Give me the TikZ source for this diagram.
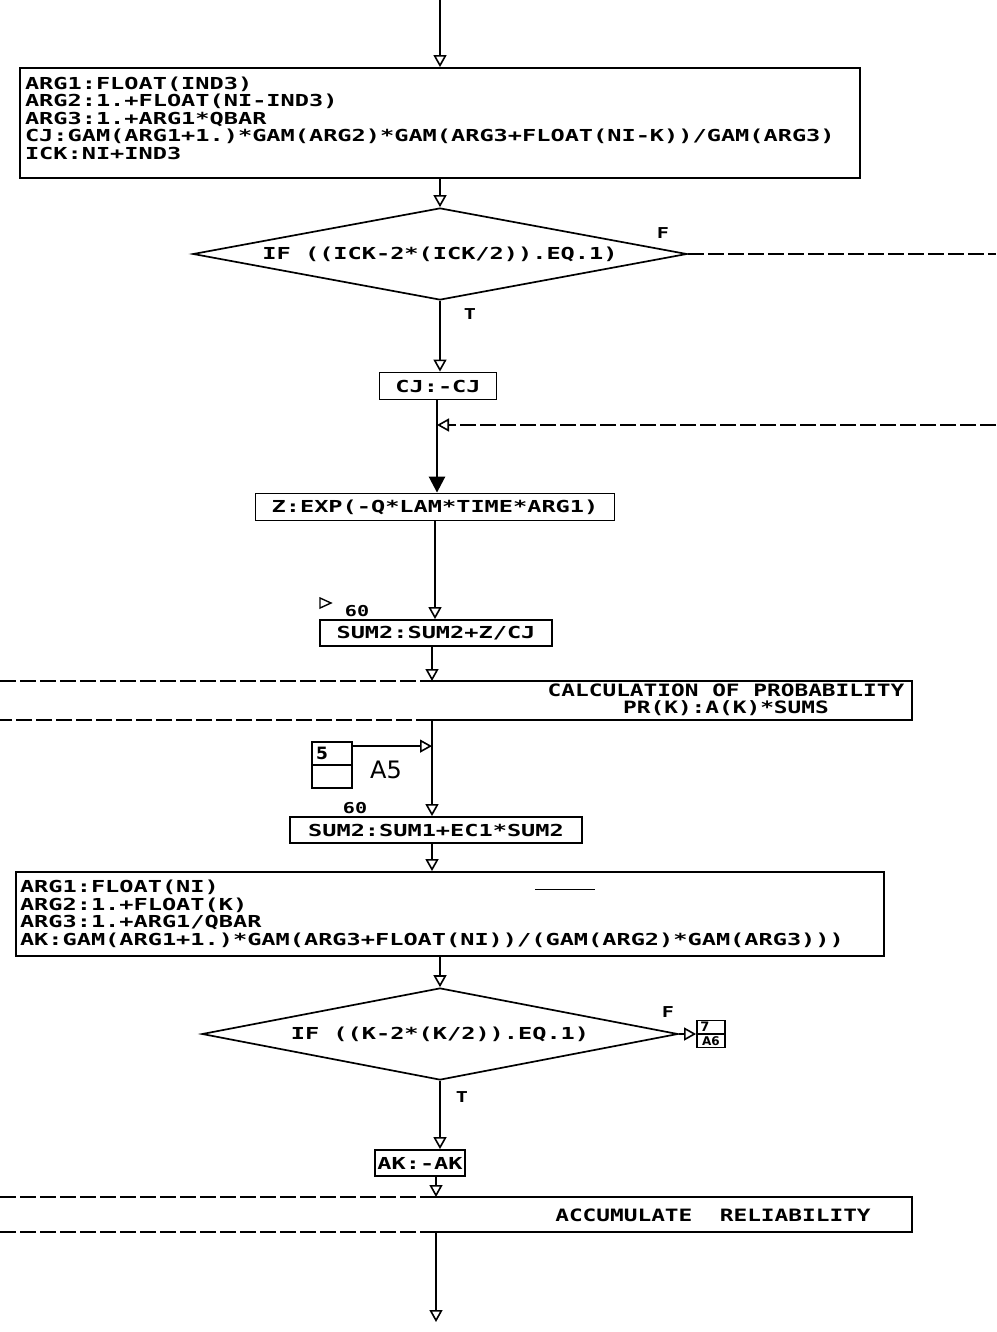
\documentclass[tikz,border=0pt]{standalone}
\usepackage{fontspec}
\newfontfamily\plotfont[FakeStretch=1.43]{DejaVu Sans Mono}
\newfontfamily\headfont[FakeStretch=1.34]{DejaVu Sans Mono}
\newfontfamily\labfont{DejaVu Sans}
\usetikzlibrary{arrows.meta,shapes.geometric,calc}
\tikzset{otip/.tip={Triangle[open,length=12pt,width=13pt,line width=1.6pt]}}
\begin{document}
\begin{tikzpicture}[x=1pt,y=-1pt,
  txt/.style={font=\plotfont\bfseries\fontsize{16.5}{17.5}\selectfont},
  box/.style={draw,line width=1.8pt,inner sep=0pt,txt},
  dia/.style={diamond,draw,line width=1.7pt,inner sep=0pt,aspect=5.4,txt},
  arr/.style={line width=1.6pt,-{otip}},
  farr/.style={line width=2.6pt,-{Triangle[length=16pt,width=16pt]}},
  ln/.style={line width=1.6pt},
  lng/.style={line width=1.1pt,dash pattern=on 16pt off 4pt},
  head/.style={font=\headfont\bfseries\fontsize{17}{17}\selectfont,align=center,inner sep=0pt},
  lab/.style={font=\headfont\bfseries\fontsize{15}{15}\selectfont,inner sep=0pt}
]
\useasboundingbox (0,0) rectangle (996,1332);

% nodes
\node[box,minimum width=840,minimum height=110,text width=830,align=left] (b1) at (440,123)
 {\mbox{ARG1:FLOAT(IND3)}\\\mbox{ARG2:1.+FLOAT(NI-IND3)}\\\mbox{ARG3:1.+ARG1*QBAR}\\\mbox{CJ:GAM(ARG1+1.)*GAM(ARG2)*GAM(ARG3+FLOAT(NI-K))/GAM(ARG3)}\\\mbox{ICK:NI+IND3}\vspace{10pt}};
\node[dia,minimum width=494,minimum height=92] (d1) at (440,254) {IF ((ICK-2*(ICK/2)).EQ.1)};
\node[box,minimum width=117,minimum height=27] (cj) at (438,386) {CJ:-CJ};
\node[box,minimum width=359,minimum height=27] (z) at (435,507) {Z:EXP(-Q*LAM*TIME*ARG1)};
\node[box,minimum width=232,minimum height=26] (s1) at (436,633) {SUM2:SUM2+Z/CJ};
\node[head] (calct) at (726,700) {CALCULATION OF PROBABILITY\\PR(K):A(K)*SUMS};
\node[draw,line width=1.8pt,minimum width=40,minimum height=46,inner sep=0pt] (a5) at (332,765) {};
\node[font=\labfont\bfseries\fontsize{17}{17}\selectfont,inner sep=0pt] (a5n) at (322,753) {5};
\node[font=\labfont\fontsize{24}{24}\selectfont,inner sep=0pt] (a5l) at (386,770) {A5};
\node[box,minimum width=292,minimum height=26] (s2) at (436,830) {SUM2:SUM1+EC1*SUM2};
\node[box,minimum width=868,minimum height=84,text width=860,align=left] (b3) at (450,914)
 {\mbox{ARG1:FLOAT(NI)}\\\mbox{ARG2:1.+FLOAT(K)}\\\mbox{ARG3:1.+ARG1/QBAR}\\\mbox{AK:GAM(ARG1+1.)*GAM(ARG3+FLOAT(NI))/(GAM(ARG2)*GAM(ARG3)))}};
\node[dia,minimum width=476,minimum height=92] (d2) at (440,1034) {IF ((K-2*(K/2)).EQ.1)};
\node[draw,line width=1.8pt,minimum width=28,minimum height=27,inner sep=0pt] (b76) at (711,1034) {};
\node[font=\labfont\bfseries\fontsize{13}{13}\selectfont,inner sep=0pt] (b76t) at (705,1027) {7};
\node[font=\labfont\bfseries\fontsize{12}{12}\selectfont,inner sep=0pt] (b76b) at (711,1041) {A6};
\node[box,minimum width=90,minimum height=26] (ak) at (420,1163) {AK:-AK};
\node[head] (acct) at (713,1215) {ACCUMULATE\ \ RELIABILITY};

% labels
\node[lab] (f1) at (663,233) {F};
\node[lab] (t1) at (470,314) {T};
\node[lab] (f2) at (668,1012) {F};
\node[lab] (t2) at (462,1097) {T};
\node[lab] (g1) at (357,611) {60};
\node[lab] (g2) at (355,808) {60};

% coordinates
\coordinate (top) at (440,0);
\coordinate (j1) at (437,425);
\coordinate (jR) at (996,425);
\coordinate (d1R) at (996,254);
\coordinate (cTL) at (0,681);
\coordinate (cTR) at (912,681);
\coordinate (cBR) at (912,720);
\coordinate (cBL) at (0,720);
\coordinate (cIn) at (432,681);
\coordinate (cOut) at (432,720);
\coordinate (sp3) at (432,0);
\coordinate (aTL) at (0,1197);
\coordinate (aTR) at (912,1197);
\coordinate (aBR) at (912,1232);
\coordinate (aBL) at (0,1232);
\coordinate (aIn) at (436,1197);
\coordinate (aOut) at (436,1232);
\coordinate (fin) at (436,1322);
\coordinate (a5o) at ($(a5.north east)+(0,5)$);

% frames of the comment boxes
\draw[lng] (cTL) -- (cIn);
\draw[ln] (cIn) -- (cTR) -- (cBR) -- (cOut);
\draw[lng] (cOut) -- (cBL);
\draw[lng] (aTL) -- (aIn);
\draw[ln] (aIn) -- (aTR) -- (aBR) -- (aOut);
\draw[lng] (aOut) -- (aBL);
\draw[line width=1.4pt] (a5.west) -- (a5.east);
\draw[line width=1.4pt] (b76.west) -- (b76.east);
\draw[line width=0.8pt] (535,889) -- (595,889);
\draw[line width=1.4pt] (320,598) -- (331,603) -- (320,608) -- cycle;

% connectors
\draw[arr] (top) -- (b1.north -| top);
\draw[arr] (b1.south -| d1.north) -- (d1.north);
\draw[lng] (d1.east) -- (d1R);
\draw[arr] (d1.south) -- (d1.south |- cj.north);
\draw[farr] (cj.south -| j1) -- (z.north -| j1);
\draw[lng,-{otip}] (jR) -- (j1);
\draw[arr] (z.south) -- (z.south |- s1.north);
\draw[arr] (s1.south -| cIn) -- (cIn);
\draw[arr] (cOut) -- (cOut |- s2.north);
\draw[arr] (a5o) -- (a5o -| cOut);
\draw[arr] (s2.south -| sp3) -- (b3.north -| sp3);
\draw[arr] (b3.south -| d2.north) -- (d2.north);
\draw[arr] (d2.east) -- (b76.west);
\draw[arr] (d2.south) -- (d2.south |- ak.north);
\draw[arr] (ak.south -| aIn) -- (aIn);
\draw[ln,-{otip}] (aOut) -- (fin);
\end{tikzpicture}
\end{document}
